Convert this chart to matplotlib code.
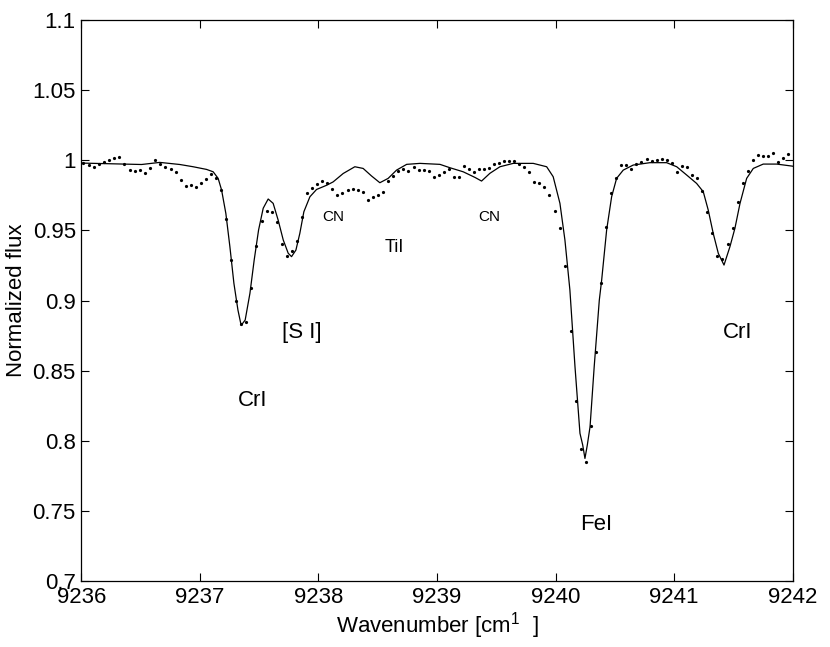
import matplotlib
matplotlib.use('Agg')
import matplotlib.pyplot as plt
from matplotlib.ticker import FuncFormatter, MultipleLocator

plt.rcParams['font.family'] = ['Liberation Sans', 'DejaVu Sans']
plt.rcParams['mathtext.fontset'] = 'custom'
plt.rcParams['mathtext.rm'] = 'Liberation Sans'

# observed spectrum (dots)
obs_wn = [9236.010, 9236.066, 9236.108, 9236.150, 9236.192, 9236.235, 9236.277, 9236.319,
          9236.361, 9236.409, 9236.454, 9236.496, 9236.538, 9236.580, 9236.623, 9236.665,
          9236.707, 9236.753, 9236.795, 9236.837, 9236.879, 9236.921, 9236.963, 9237.006,
          9237.050, 9237.093, 9237.135, 9237.177, 9237.219, 9237.264, 9237.306, 9237.348,
          9237.390, 9237.433, 9237.475, 9237.520, 9237.562, 9237.605, 9237.647, 9237.689,
          9237.731, 9237.776, 9237.818, 9237.860, 9237.902, 9237.947, 9237.989, 9238.032,
          9238.074, 9238.116, 9238.158, 9238.200, 9238.246, 9238.288, 9238.330, 9238.372,
          9238.414, 9238.457, 9238.499, 9238.541, 9238.583, 9238.625, 9238.668, 9238.710,
          9238.752, 9238.808, 9238.850, 9238.892, 9238.934, 9238.976, 9239.019, 9239.061,
          9239.103, 9239.145, 9239.187, 9239.230, 9239.272, 9239.314, 9239.356, 9239.398,
          9239.440, 9239.483, 9239.525, 9239.567, 9239.609, 9239.651, 9239.694, 9239.736,
          9239.778, 9239.820, 9239.862, 9239.905, 9239.947, 9239.995, 9240.037, 9240.079,
          9240.130, 9240.172, 9240.214, 9240.257, 9240.299, 9240.341, 9240.383, 9240.425,
          9240.467, 9240.509, 9240.552, 9240.594, 9240.636, 9240.678, 9240.720, 9240.768,
          9240.811, 9240.853, 9240.895, 9240.937, 9240.979, 9241.021, 9241.064, 9241.106,
          9241.153, 9241.195, 9241.237, 9241.280, 9241.322, 9241.364, 9241.406, 9241.454,
          9241.496, 9241.539, 9241.581, 9241.623, 9241.665, 9241.707, 9241.749, 9241.792,
          9241.837, 9241.879, 9241.921, 9241.963]
obs_flux = [0.9978, 0.9966, 0.9950, 0.9971, 0.9985, 1.0002, 1.0018, 1.0025,
            0.9973, 0.9933, 0.9925, 0.9933, 0.9909, 0.9945, 1.0002, 0.9971,
            0.9952, 0.9938, 0.9914, 0.9857, 0.9814, 0.9824, 0.9811, 0.9840,
            0.9866, 0.9904, 0.9876, 0.9790, 0.9583, 0.9287, 0.8996, 0.8830,
            0.8849, 0.9089, 0.9386, 0.9569, 0.9636, 0.9629, 0.9562, 0.9405,
            0.9319, 0.9353, 0.9426, 0.9595, 0.9764, 0.9802, 0.9833, 0.9854,
            0.9840, 0.9797, 0.9750, 0.9769, 0.9788, 0.9795, 0.9788, 0.9774,
            0.9719, 0.9740, 0.9754, 0.9774, 0.9852, 0.9890, 0.9925, 0.9938,
            0.9923, 0.9954, 0.9928, 0.9928, 0.9925, 0.9878, 0.9893, 0.9914,
            0.9940, 0.9883, 0.9883, 0.9961, 0.9935, 0.9914, 0.9935, 0.9938,
            0.9945, 0.9973, 0.9983, 0.9995, 0.9995, 0.9995, 0.9973, 0.9950,
            0.9918, 0.9845, 0.9836, 0.9811, 0.9752, 0.9638, 0.9515, 0.9248,
            0.8785, 0.8283, 0.7943, 0.7848, 0.8103, 0.8633, 0.9123, 0.9522,
            0.9764, 0.9873, 0.9966, 0.9966, 0.9940, 0.9971, 0.9988, 1.0009,
            0.9992, 1.0004, 1.0007, 1.0000, 0.9980, 0.9918, 0.9959, 0.9954,
            0.9893, 0.9873, 0.9783, 0.9633, 0.9479, 0.9317, 0.9296, 0.9405,
            0.9519, 0.9700, 0.9836, 0.9925, 1.0002, 1.0037, 1.0030, 1.0030,
            1.0054, 0.9990, 1.0014, 1.0042]

# synthetic spectrum (solid line)
syn_wn = [9236.000, 9236.010, 9236.508, 9236.662, 9236.831, 9236.943, 9237.056, 9237.112,
          9237.154, 9237.183, 9237.219, 9237.253, 9237.287, 9237.321, 9237.348, 9237.382,
          9237.422, 9237.458, 9237.495, 9237.534, 9237.576, 9237.618, 9237.660, 9237.703,
          9237.745, 9237.773, 9237.810, 9237.843, 9237.877, 9237.928, 9237.984, 9238.069,
          9238.124, 9238.209, 9238.307, 9238.377, 9238.448, 9238.518, 9238.588, 9238.659,
          9238.744, 9238.856, 9239.025, 9239.109, 9239.221, 9239.320, 9239.376, 9239.446,
          9239.531, 9239.643, 9239.812, 9239.925, 9239.980, 9240.037, 9240.079, 9240.121,
          9240.164, 9240.206, 9240.229, 9240.248, 9240.268, 9240.291, 9240.326, 9240.369,
          9240.389, 9240.431, 9240.473, 9240.515, 9240.571, 9240.655, 9240.796, 9240.937,
          9241.022, 9241.106, 9241.190, 9241.246, 9241.288, 9241.330, 9241.373, 9241.421,
          9241.471, 9241.513, 9241.556, 9241.612, 9241.668, 9241.752, 9241.865, 9241.992,
          9242.000]
syn_flux = [0.9980, 0.9980, 0.9970, 0.9985, 0.9970, 0.9954, 0.9935, 0.9918,
            0.9871, 0.9788, 0.9621, 0.9384, 0.9122, 0.8932, 0.8823, 0.8861,
            0.9051, 0.9289, 0.9503, 0.9658, 0.9724, 0.9693, 0.9574, 0.9432,
            0.9337, 0.9313, 0.9360, 0.9479, 0.9633, 0.9740, 0.9792, 0.9822,
            0.9846, 0.9906, 0.9954, 0.9942, 0.9888, 0.9840, 0.9871, 0.9930,
            0.9971, 0.9978, 0.9971, 0.9947, 0.9918, 0.9878, 0.9852, 0.9907,
            0.9954, 0.9978, 0.9978, 0.9954, 0.9883, 0.9693, 0.9432, 0.9075,
            0.8528, 0.8053, 0.7970, 0.7874, 0.7970, 0.8100, 0.8528, 0.9002,
            0.9146, 0.9503, 0.9740, 0.9871, 0.9930, 0.9966, 0.9983, 0.9983,
            0.9954, 0.9895, 0.9835, 0.9776, 0.9645, 0.9479, 0.9336, 0.9253,
            0.9384, 0.9515, 0.9693, 0.9871, 0.9942, 0.9973, 0.9973, 0.9959,
            0.9958]

# line labels
lbl_text = ['CrI', '[S I]', 'CN', 'TiI', 'CN', 'FeI', 'CrI']
lbl_x = [9237.449, 9237.862, 9238.124, 9238.637, 9239.440, 9240.342, 9241.539]
lbl_y = [0.829, 0.8775, 0.9598, 0.938, 0.9598, 0.7405, 0.8775]
lbl_size = [16, 16, 11, 13, 11, 16, 16]

fig = plt.figure(figsize=(8.3, 6.47), dpi=100)
ax = fig.add_axes([0.098, 0.102, 0.857, 0.867])

ax.plot(syn_wn, syn_flux, color='black', linewidth=0.9)
ax.plot(obs_wn, obs_flux, 'o', color='black', markersize=2.3, markeredgewidth=0)

for t, x, y, s in zip(lbl_text, lbl_x, lbl_y, lbl_size):
    ax.text(x, y, t, fontsize=s, ha='center', va='center')

ax.set_xlim(9236, 9242)
ax.set_ylim(0.7, 1.1)
ax.xaxis.set_major_locator(MultipleLocator(1))
ax.yaxis.set_major_locator(MultipleLocator(0.05))
ax.xaxis.set_major_formatter(FuncFormatter(lambda v, p: '%d' % round(v)))
ax.yaxis.set_major_formatter(FuncFormatter(lambda v, p: '%g' % round(v, 2)))
ax.tick_params(direction='in', length=6, width=0.8, labelsize=16,
               top=True, right=True, pad=4)
for sp in ax.spines.values():
    sp.set_linewidth(0.9)

ax.set_xlabel(r'Wavenumber [cm$^{1}$  ]', fontsize=16, labelpad=2)
ax.set_ylabel('Normalized flux', fontsize=16, labelpad=4)

fig.savefig('out.png', dpi=100)
